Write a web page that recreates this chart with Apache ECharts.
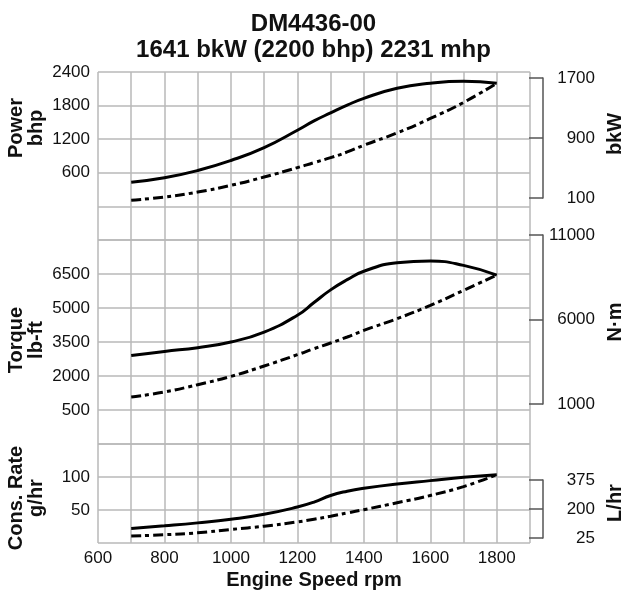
<!DOCTYPE html>
<html><head><meta charset="utf-8">
<script src="https://cdn.jsdelivr.net/npm/echarts@6/dist/echarts.min.js"></script>
<style>html,body{margin:0;padding:0;background:#fff}#c{width:627px;height:592px}</style>
</head><body><div id="c"></div>
<script>
// Engine speed (rpm)
const rpm        = [700, 800, 900, 1000, 1100, 1200, 1250, 1300, 1350, 1400, 1500, 1600, 1700, 1800];
// Power bhp (max / propeller)
const powerMax   = [430, 510, 640, 820, 1050, 1360, 1527, 1670, 1808, 1930, 2110, 2200, 2235, 2200];
const powerProp  = [110, 167, 256, 376, 525, 692, 782, 870, 972, 1092, 1312, 1570, 1856, 2200];
// Torque lb-ft
const torqueMax  = [2900, 3085, 3250, 3500, 3940, 4680, 5240, 5800, 6250, 6620, 7000, 7070, 6880, 6450];
const torqueProp = [1075, 1295, 1617, 1983, 2442, 2940, 3205, 3456, 3720, 4012, 4528, 5114, 5776, 6450];
// Consumption rate g/hr
const consMax    = [22, 26, 30.5, 36, 43.5, 54.5, 62, 72, 78.5, 83, 89.5, 94.5, 99.5, 103.5];
const consProp   = [10.5, 12.5, 15.5, 20.5, 25.5, 32, 36, 40.5, 45.5, 50.5, 61, 72, 85.5, 103.5];
// Tick labels
const rpmTicks    = [600, 800, 1000, 1200, 1400, 1600, 1800];
const powerTicks  = [600, 1200, 1800, 2400];
const torqueTicks = [500, 2000, 3500, 5000, 6500];
const consTicks   = [50, 100];
const bkwTicks    = [100, 900, 1700];
const nmTicks     = [1000, 6000, 11000];
const lhrTicks    = [25, 200, 375];

const FONT = 'Liberation Sans, Arial, Helvetica, sans-serif';
const chart = echarts.init(document.getElementById('c'), null, {renderer: 'canvas'});
const gridLine = {show: true, lineStyle: {color: '#b9b9b9', width: 1.5}};
const L = 98, W = 432;
const grids = [
  {left: L, top: 72, width: W, height: 168},
  {left: L, top: 240, width: W, height: 204},
  {left: L, top: 444, width: W, height: 99},
  {left: 543, top: 78, width: 10, height: 120},
  {left: 543, top: 235, width: 10, height: 169},
  {left: 543, top: 480, width: 10, height: 58}
].map(g => Object.assign(g, {outerBoundsMode: 'none', containLabel: false}));
const xAxes = [0, 1, 2].map(i => ({
  type: 'value', gridIndex: i, min: 600, max: 1900, interval: 100,
  splitLine: gridLine, axisLine: {show: false}, axisTick: {show: false},
  axisLabel: {
    show: i === 2, margin: 7, fontSize: 17, color: '#111', fontFamily: FONT,
    formatter: v => rpmTicks.includes(v) ? String(v) : ''
  }
})).concat([3, 4, 5].map(i => ({type: 'value', gridIndex: i, show: false, min: 0, max: 1})));

function leftAxis(i, min, max, interval, ticks) {
  return {
    type: 'value', gridIndex: i, min: min, max: max, interval: interval,
    splitLine: gridLine, axisLine: {show: false}, axisTick: {show: false},
    axisLabel: {margin: 8, fontSize: 17, color: '#111', fontFamily: FONT,
      formatter: v => ticks.includes(v) ? String(v) : ''}
  };
}
// bracket axes: axis line at the grid's left edge, ticks pointing back to the chart, labels to the right
function bracketAxis(i, min, max, ticks) {
  return {
    type: 'value', gridIndex: i, position: 'left', min: min, max: max,
    splitLine: {show: false},
    axisLine: {show: true, lineStyle: {color: '#555', width: 1.5}},
    axisTick: {show: true, inside: false, length: 14, customValues: ticks, lineStyle: {color: '#555', width: 1.5}},
    axisLabel: {inside: true, customValues: ticks, align: 'right', margin: 52, fontSize: 17, color: '#111', fontFamily: FONT,
      formatter: v => String(v)}
  };
}
const yAxes = [
  leftAxis(0, -600, 2400, 600, powerTicks),
  leftAxis(1, -1000, 8000, 1500, torqueTicks),
  leftAxis(2, 0, 150, 50, consTicks),
  bracketAxis(3, 100, 1700, bkwTicks),
  bracketAxis(4, 1000, 11000, nmTicks),
  bracketAxis(5, 25, 375, lhrTicks)
];
const solid = {color: '#000', width: 3};
const dashed = {color: '#000', width: 3, type: [10, 4, 4, 4]};
function line(idx, vals, style) {
  return {type: 'line', xAxisIndex: idx, yAxisIndex: idx, data: rpm.map((r, k) => [r, vals[k]]),
    smooth: 0.5, showSymbol: false, symbol: 'none', lineStyle: style, silent: true, animation: false};
}
function vtext(text, x, y) {
  return {type: 'text', x: x, y: y, rotation: Math.PI / 2,
    style: {text: text, fontSize: 20, fontWeight: 'bold', fontFamily: FONT, fill: '#111',
      align: 'center', verticalAlign: 'middle', lineHeight: 20}};
}
chart.setOption({
  animation: false,
  backgroundColor: '#fff',
  title: {text: 'DM4436-00\n1641 bkW (2200 bhp) 2231 mhp', left: 'center', top: 6,
    textStyle: {fontSize: 24, fontWeight: 'bold', lineHeight: 26, color: '#111', fontFamily: FONT}},
  grid: grids, xAxis: xAxes, yAxis: yAxes,
  series: [
    line(0, powerMax, solid), line(0, powerProp, dashed),
    line(1, torqueMax, solid), line(1, torqueProp, dashed),
    line(2, consMax, solid), line(2, consProp, dashed)
  ],
  graphic: [
    vtext('Power\nbhp', 26, 128),
    vtext('Torque\nlb-ft', 26, 340),
    vtext('Cons. Rate\ng/hr', 26, 498),
    vtext('bkW', 615, 134),
    vtext('N·m', 615, 322),
    vtext('L/hr', 615, 503),
    {type: 'text', x: 314, y: 580, style: {text: 'Engine Speed rpm', fontSize: 20, fontWeight: 'bold',
      fontFamily: FONT, fill: '#111', align: 'center', verticalAlign: 'middle'}}
  ]
});
</script></body></html>
